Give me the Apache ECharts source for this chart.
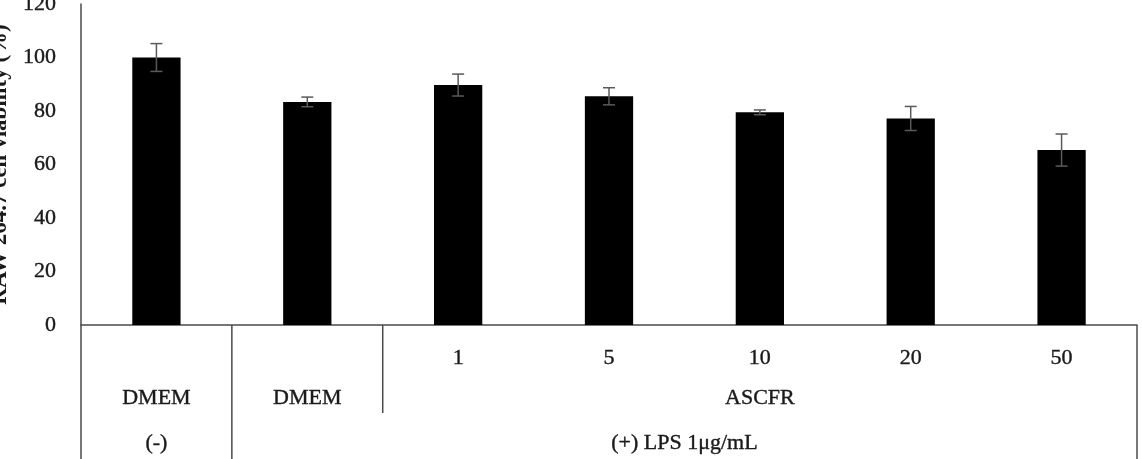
<!DOCTYPE html>
<html>
<head>
<meta charset="utf-8">
<title>RAW 264.7 cell viability</title>
<script src="https://cdn.jsdelivr.net/npm/echarts@6/dist/echarts.min.js"></script>
<style>
  html, body { margin: 0; padding: 0; background: #fff; }
  #chart { width: 1142px; height: 459px; }
</style>
</head>
<body>
<div id="chart"></div>
<script>
  // 数据
  const categories = ['DMEM (-)', 'DMEM LPS', 'ASCFR 1', 'ASCFR 5', 'ASCFR 10', 'ASCFR 20', 'ASCFR 50']
  const viability = [100, 83.4, 89.7, 85.5, 79.5, 77.2, 65.4]
  const errors = [5.2, 1.8, 4.1, 3.2, 0.9, 4.5, 6.0]
  const doseLabels = ['', '', '1', '5', '10', '20', '50']
  // 表格第二、三行：文字 + 跨越的类别范围
  const treatRow = [['DMEM', 0, 0], ['DMEM', 1, 1], ['ASCFR', 2, 6]]
  const lpsRow = [['(-)', 0, 0], ['(+) LPS 1μg/mL', 1, 6]]
  const yTicks = [0, 20, 40, 60, 80, 100, 120]

  const font = "'Liberation Serif', 'DejaVu Serif', serif"
  const lineColor = '#4a4a4a'
  const textColor = '#1a1a1a'
  // 原图文字略粗，用细描边加粗一点
  const thick = { textBorderColor: textColor, textBorderWidth: 0.4 }

  const chart = echarts.init(document.getElementById('chart'))
  chart.setOption({
    animation: false,
    grid: { left: 81, right: 5, top: 4, bottom: 134, containLabel: false, outerBoundsMode: 'none' },
    xAxis: {
      type: 'category',
      data: categories,
      axisLine: { lineStyle: { color: lineColor, width: 1.5 } },
      axisTick: { show: false },
      axisLabel: Object.assign({
        margin: 22,
        fontFamily: font,
        fontSize: 22,
        color: textColor,
        formatter: (v, i) => doseLabels[i]
      }, thick)
    },
    yAxis: {
      type: 'value',
      min: yTicks[0],
      max: yTicks[yTicks.length - 1],
      interval: 20,
      name: 'RAW 264.7 cell viability (%)',
      nameLocation: 'middle',
      nameGap: 67,
      nameTextStyle: { fontFamily: font, fontSize: 23, fontWeight: 'bold', color: textColor },
      axisLine: { show: true, lineStyle: { color: lineColor, width: 1.5 } },
      axisTick: { show: false },
      splitLine: { show: false },
      axisLabel: Object.assign({ margin: 25, fontFamily: font, fontSize: 22, color: textColor }, thick)
    },
    series: [{
      type: 'bar',
      data: viability,
      barWidth: '32%',
      itemStyle: { color: '#000' }
    }, {
      // 误差线
      type: 'custom',
      data: viability.map((v, i) => [i, v - errors[i], v + errors[i]]),
      z: 5,
      renderItem (params, api) {
        const lo = api.coord([api.value(0), api.value(1)])
        const hi = api.coord([api.value(0), api.value(2)])
        const cap = 6
        const style = { stroke: '#5a5a5a', lineWidth: 1.5 }
        return {
          type: 'group',
          children: [
            { type: 'line', shape: { x1: hi[0], y1: hi[1], x2: lo[0], y2: lo[1] }, style },
            { type: 'line', shape: { x1: hi[0] - cap, y1: hi[1], x2: hi[0] + cap, y2: hi[1] }, style },
            { type: 'line', shape: { x1: lo[0] - cap, y1: lo[1], x2: lo[0] + cap, y2: lo[1] }, style }
          ]
        }
      }
    }]
  })

  // 表格线和下两行文字，位置由坐标轴换算
  const cx = i => chart.convertToPixel({ xAxisIndex: 0 }, i)
  const band = cx(1) - cx(0)
  const edge = i => cx(i) - band / 2
  const y0 = chart.convertToPixel({ yAxisIndex: 0 }, 0)
  const bottom = 459
  const graphic = []
  const vline = (x, y2) => graphic.push({
    type: 'line',
    shape: { x1: x, y1: y0, x2: x, y2: y2 },
    style: { stroke: lineColor, lineWidth: 1.5 }
  })
  vline(edge(0), bottom)
  vline(edge(1), bottom)
  vline(edge(2), y0 + 88)
  vline(edge(7), bottom)
  const rowText = (row, y) => row.forEach(([t, a, b]) => graphic.push({
    type: 'text',
    x: (cx(a) + cx(b)) / 2,
    y: y,
    style: Object.assign({
      text: t, fontFamily: font, fontSize: 22, fill: textColor, align: 'center', verticalAlign: 'middle',
      stroke: textColor, lineWidth: 0.4
    })
  }))
  rowText(treatRow, y0 + 73)
  rowText(lpsRow, y0 + 118)
  chart.setOption({ graphic: graphic })
</script>
</body>
</html>
